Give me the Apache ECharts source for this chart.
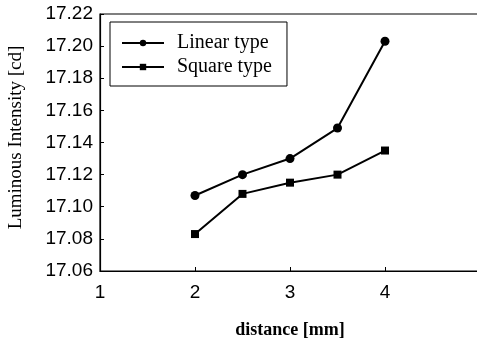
<!DOCTYPE html>
<html><head><meta charset="utf-8">
<script src="https://cdn.jsdelivr.net/npm/echarts@6/dist/echarts.min.js"></script>
<style>html,body{margin:0;padding:0;background:#fff}#c{width:477px;height:343px}</style>
</head><body><div id="c"></div>
<script>
const distances = [2, 2.5, 3, 3.5, 4];
const linearType = [17.107, 17.120, 17.130, 17.149, 17.203];
const squareType = [17.083, 17.108, 17.115, 17.120, 17.135];
const seriesNames = ['Linear type', 'Square type'];
const xTitle = 'distance [mm]';
const yTitle = 'Luminous Intensity [cd]';

const chart = echarts.init(document.getElementById('c'));
const serif = '"Liberation Serif", "Times New Roman", serif';
const sans = '"Liberation Sans", Arial, sans-serif';
chart.setOption({
  animation: false,
  grid: { left: 100, top: 14, width: 380, height: 257, show: true, borderColor: '#000', borderWidth: 1.2,
    containLabel: false, outerBoundsMode: 'none' },
  legend: {
    left: 110, top: 22, orient: 'vertical', itemGap: 4, itemWidth: 42, itemHeight: 8,
    borderColor: '#000', borderWidth: 1, padding: [11, 15, 9, 11],
    textStyle: { fontFamily: serif, fontSize: 20, color: '#000', padding: [0, 0, 0, 8] },
    data: seriesNames
  },
  xAxis: {
    type: 'value', min: 1, max: 5, interval: 1,
    name: xTitle, nameLocation: 'middle', nameGap: 50,
    nameTextStyle: { fontFamily: serif, fontSize: 18, color: '#000', fontWeight: 'bold' },
    axisLine: { lineStyle: { color: '#000', width: 1.2 } },
    axisTick: { inside: true, length: 4, lineStyle: { color: '#000' } },
    axisLabel: { fontFamily: sans, fontSize: 19, color: '#000', margin: 12,
      formatter: v => (v >= 5 ? '' : String(v)) },
    splitLine: { show: false }
  },
  yAxis: {
    type: 'value', min: 17.06, max: 17.22, interval: 0.02,
    name: yTitle, nameLocation: 'middle', nameGap: 74, nameRotate: 90,
    nameTextStyle: { fontFamily: serif, fontSize: 19, color: '#000', padding: [0, 0, 0, 10] },
    axisLine: { lineStyle: { color: '#000', width: 1.2 } },
    axisTick: { inside: true, length: 4, lineStyle: { color: '#000' } },
    axisLabel: { fontFamily: sans, fontSize: 19, color: '#000', margin: 7, formatter: v => v.toFixed(2) },
    splitLine: { show: false }
  },
  series: [
    { name: seriesNames[0], type: 'line', data: distances.map((d, i) => [d, linearType[i]]),
      symbol: 'circle', symbolSize: 9, lineStyle: { color: '#000', width: 2 }, itemStyle: { color: '#000' } },
    { name: seriesNames[1], type: 'line', data: distances.map((d, i) => [d, squareType[i]]),
      symbol: 'rect', symbolSize: 8, lineStyle: { color: '#000', width: 2 }, itemStyle: { color: '#000' } }
  ]
});
</script></body></html>
